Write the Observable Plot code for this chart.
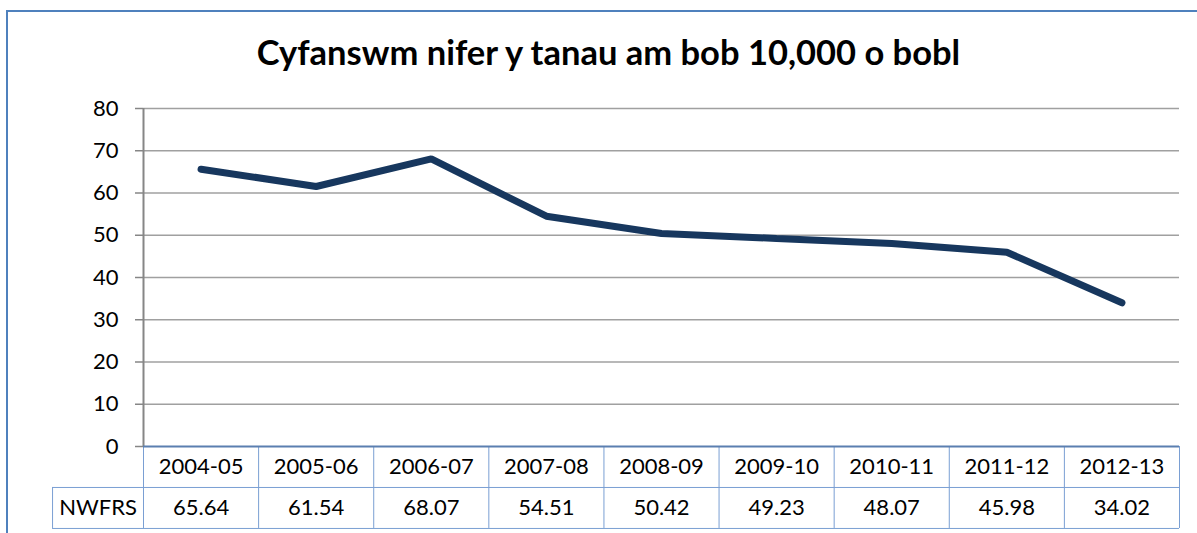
<!DOCTYPE html>
<html>
<head>
<meta charset="utf-8">
<script src="https://cdn.jsdelivr.net/npm/d3@7"></script>
<script src="https://cdn.jsdelivr.net/npm/@observablehq/plot@0.6"></script>
<style>
  html, body { margin: 0; padding: 0; background: #fff; }
  #wrap { position: relative; width: 1197px; height: 533px; overflow: hidden; font-family: Lato, "Open Sans", sans-serif; }
  #frame { position: absolute; left: 6px; top: 10px; width: 1300px; height: 600px; border-left: 2px solid #4F81BD; border-top: 2px solid #4F81BD; box-sizing: border-box; }
  #title { position: absolute; left: 10px; width: 1197px; top: 31px; text-align: center; font-weight: 700; font-size: 34.5px; color: #000; }
  #chart { position: absolute; left: 0; top: 0; }
</style>
</head>
<body>
<div id="wrap">
  <div id="frame"></div>
  <div id="chart"></div>
  <div id="title">Cyfanswm nifer y tanau am bob 10,000 o bobl</div>
</div>
<script>
const categories = ["2004-05", "2005-06", "2006-07", "2007-08", "2008-09", "2009-10", "2010-11", "2011-12", "2012-13"];
const values = [65.64, 61.54, 68.07, 54.51, 50.42, 49.23, 48.07, 45.98, 34.02];
const valueLabels = ["65.64", "61.54", "68.07", "54.51", "50.42", "49.23", "48.07", "45.98", "34.02"];
const seriesName = "NWFRS";
const yTicks = [0, 10, 20, 30, 40, 50, 60, 70, 80];

const data = categories.map((c, i) => ({cat: c, pos: i + 0.5, v: values[i], label: valueLabels[i]}));
const n = categories.length;
const bounds = d3.range(n + 1);

// table layout in y-data units (below zero)
const rowH = 9.7;
const row1Mid = -rowH / 2, row2Mid = -rowH * 1.5, rowBottom = -rowH * 2;
const labelLeft = -0.79;

const tableBlue = "#7A9FD3";
const font = "Lato, 'Open Sans', sans-serif";

const plot = Plot.plot({
  width: 1197,
  height: 533,
  marginLeft: 143,
  marginRight: 18,
  marginTop: 108,
  marginBottom: 87,
  x: {domain: [0, n], axis: null},
  y: {domain: [0, 80], axis: null},
  style: {fontFamily: font, fontSize: "22px", color: "#000", overflow: "visible", background: "transparent"},
  marks: [
    Plot.ruleY(yTicks.filter(t => t > 0), {stroke: "#A0A0A0", strokeWidth: 1.5}),
    Plot.axisY({ticks: yTicks, tickSize: 8, tickPadding: 17, stroke: "#868686", strokeWidth: 1.5, fill: "#000", fontSize: 22, label: null}),
    Plot.ruleX([0], {y1: 0, y2: 80, stroke: "#868686", strokeWidth: 2}),
    // table grid
    Plot.ruleX(bounds, {y1: 0, y2: rowBottom, stroke: tableBlue, strokeWidth: 1}),
    Plot.ruleX([labelLeft], {y1: row1Mid * 2, y2: rowBottom, stroke: tableBlue, strokeWidth: 1}),
    Plot.ruleY([-rowH, rowBottom], {x1: labelLeft, x2: n, stroke: tableBlue, strokeWidth: 1}),
    Plot.ruleY([0], {x1: 0, x2: n, stroke: "#5B7FB0", strokeWidth: 2}),
    // table text
    Plot.text(data, {x: "pos", y: () => row1Mid, text: "cat", fontSize: 22, fill: "#000"}),
    Plot.text(data, {x: "pos", y: () => row2Mid, text: "label", fontSize: 22, fill: "#000"}),
    Plot.text([seriesName], {x: () => labelLeft / 2, y: () => row2Mid, text: d => d, fontSize: 22, fill: "#000"}),
    // series line
    Plot.line(data, {x: "pos", y: "v", stroke: "#17375E", strokeWidth: 7, strokeLinejoin: "miter", strokeLinecap: "round"})
  ]
});
document.getElementById("chart").appendChild(plot);
</script>
</body>
</html>
